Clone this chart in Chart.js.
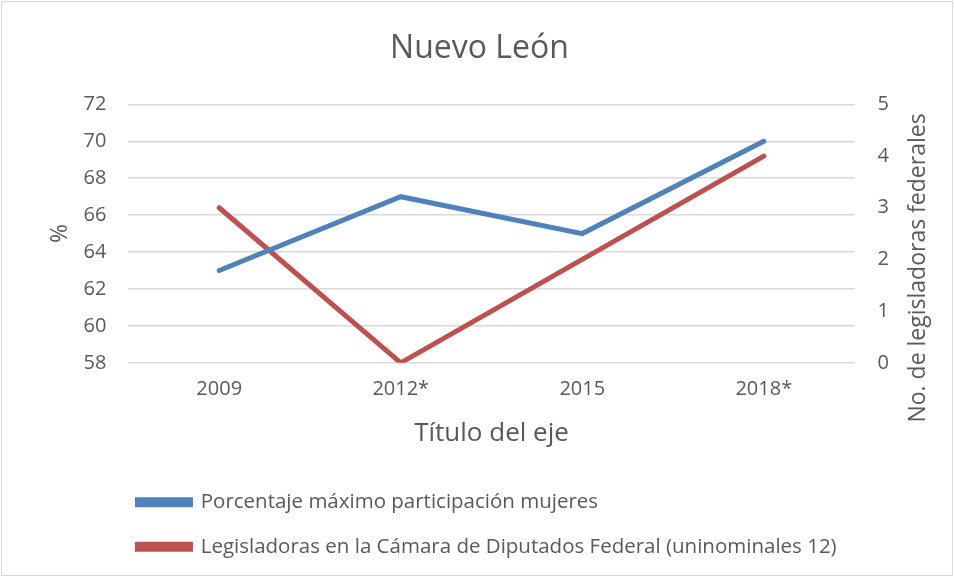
<!DOCTYPE html>
<html>
<head>
<meta charset="utf-8">
<script src="https://cdn.jsdelivr.net/npm/chart.js@4/dist/chart.umd.min.js"></script>
<style>
body { margin: 0; background: #fff; }
</style>
</head>
<body>
<canvas id="graf" width="954" height="577"></canvas>
<script>
var anios = ["2009", "2012*", "2015", "2018*"];
var porcentaje_max = [63, 67, 65, 70];
var legisladoras = [3, 0, 2, 4];

var fuente = "'Open Sans', sans-serif";
var gris = "#595959";

// borde del grafico y titulo del eje derecho (se lee de abajo hacia arriba)
var marco = {
    id : "marco",
    afterLayout : function(chart) {
        chart.legend.left = chart.chartArea.left - 15;
    },
    beforeDraw : function(chart) {
        var c = chart.ctx;
        c.save();
        c.fillStyle = "#fff";
        c.fillRect(0, 0, chart.width, chart.height);
        c.strokeStyle = "#d9d9d9";
        c.lineWidth = 1;
        c.strokeRect(1.5, 1.5, chart.width - 3, chart.height - 3);
        c.restore();
    },
    afterDraw : function(chart) {
        var c = chart.ctx;
        c.save();
        c.translate(918, 268);
        c.rotate(-Math.PI / 2);
        c.fillStyle = gris;
        c.font = "23px " + fuente;
        c.textAlign = "center";
        c.textBaseline = "middle";
        c.fillText("No. de legisladoras federales", 0, 0);
        c.restore();
    }
};

var ctx = document.getElementById("graf").getContext("2d");

var data = {
    labels : anios,
    datasets : [
        {
            label : "Porcentaje máximo participación mujeres",
            data : porcentaje_max,
            borderColor : "#4f81bd",
            backgroundColor : "#4f81bd",
            borderWidth : 5,
            borderCapStyle : "round",
            pointRadius : 0,
            yAxisID : "y"
        },
        {
            label : "Legisladoras en la Cámara de Diputados Federal (uninominales 12)",
            data : legisladoras,
            borderColor : "#c0504d",
            backgroundColor : "#c0504d",
            borderWidth : 5,
            borderCapStyle : "round",
            pointRadius : 0,
            yAxisID : "y1"
        }
    ]
};

var options = {
    responsive : false,
    animation : false,
    layout : { padding : { left : 47, right : 42, top : 0, bottom : 10 } },
    plugins : {
        title : {
            display : true,
            text : "Nuevo León",
            color : gris,
            font : { family : fuente, size : 32, weight : "normal" },
            padding : { top : 30, bottom : 36 }
        },
        legend : {
            position : "bottom",
            align : "start",
            fullSize : false,
            labels : {
                color : gris,
                font : { family : fuente, size : 20.5 },
                boxWidth : 53,
                boxHeight : 5,
                padding : 24
            }
        },
        tooltip : { enabled : false }
    },
    scales : {
        x : {
            offset : true,
            grid : { display : false },
            border : { display : false },
            ticks : { color : gris, font : { family : fuente, size : 20 }, padding : 6 },
            title : {
                display : true,
                text : "Título del eje",
                color : gris,
                font : { family : fuente, size : 26 },
                padding : { top : 11, bottom : 19 }
            }
        },
        y : {
            position : "left",
            min : 58,
            max : 72,
            ticks : { stepSize : 2, color : gris, font : { family : fuente, size : 20 }, padding : 22 },
            grid : { color : "#d9d9d9", lineWidth : 1.5, drawTicks : false },
            border : { display : false },
            title : {
                display : true,
                text : "%",
                color : gris,
                font : { family : fuente, size : 23 },
                padding : { top : 0, bottom : -13 }
            }
        },
        y1 : {
            position : "right",
            min : 0,
            max : 5,
            ticks : { stepSize : 1, color : gris, font : { family : fuente, size : 20 }, padding : 23 },
            grid : { display : false, drawTicks : false },
            border : { display : false }
        }
    }
};

var config = {
    type : "line",
    data : data,
    options : options,
    plugins : [marco]
};

var grafico = new Chart(ctx, config);
</script>
</body>
</html>
